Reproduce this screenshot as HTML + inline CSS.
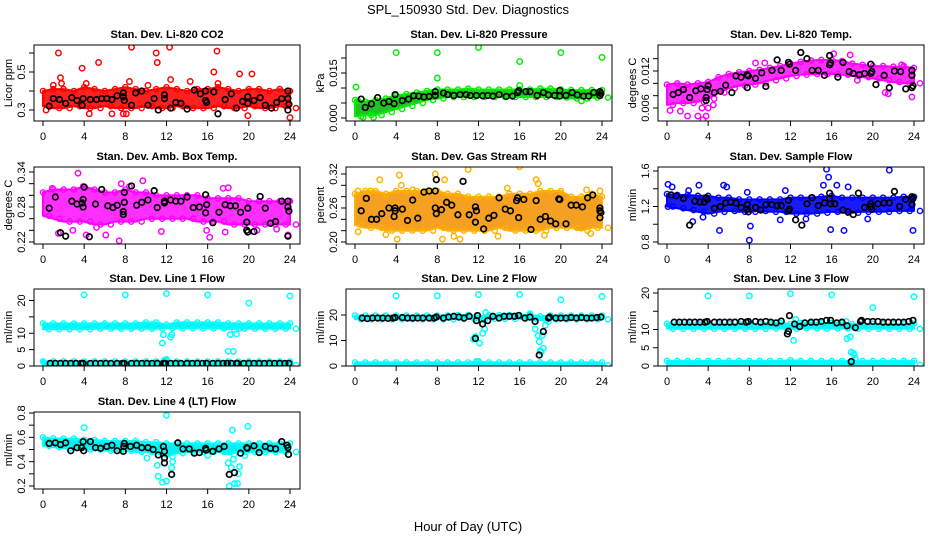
<!DOCTYPE html>
<html><head><meta charset="utf-8"><title>SPL_150930 Std. Dev. Diagnostics</title>
<style>
html,body{margin:0;padding:0;background:#fff;}
svg{display:block;font-family:"Liberation Sans",Arial,sans-serif;}
.pt{font-size:11px;font-weight:bold;text-anchor:middle;}
.yt{font-size:11px;text-anchor:middle;}
</style></head>
<body>
<svg id="chart" width="936" height="540" viewBox="0 0 936 540" xmlns="http://www.w3.org/2000/svg">
<rect x="0" y="0" width="936" height="540" fill="#fff"/>
<text x="468" y="14" font-size="13" text-anchor="middle">SPL_150930  Std. Dev. Diagnostics</text>
<text x="468" y="531" font-size="13" text-anchor="middle">Hour of Day (UTC)</text>
<text class="pt" x="167" y="38">Stan. Dev. Li-820 CO2</text>
<text class="pt" x="479" y="38">Stan. Dev. Li-820 Pressure</text>
<text class="pt" x="791" y="38">Stan. Dev. Li-820 Temp.</text>
<text class="pt" x="167" y="160">Stan. Dev. Amb. Box Temp.</text>
<text class="pt" x="479" y="160">Stan. Dev. Gas Stream RH</text>
<text class="pt" x="791" y="160">Stan. Dev. Sample Flow</text>
<text class="pt" x="167" y="282">Stan. Dev. Line 1 Flow</text>
<text class="pt" x="479" y="282">Stan. Dev. Line 2 Flow</text>
<text class="pt" x="791" y="282">Stan. Dev. Line 3 Flow</text>
<text class="pt" x="167" y="405">Stan. Dev. Line 4 (LT) Flow</text>
<text class="yt" transform="translate(12,83) rotate(-90)">Licor ppm</text>
<text class="yt" transform="translate(324,83) rotate(-90)">kPa</text>
<text class="yt" transform="translate(636,83) rotate(-90)">degrees C</text>
<text class="yt" transform="translate(12,205) rotate(-90)">degrees C</text>
<text class="yt" transform="translate(324,205) rotate(-90)">percent</text>
<text class="yt" transform="translate(636,205) rotate(-90)">ml/min</text>
<text class="yt" transform="translate(12,327) rotate(-90)">ml/min</text>
<text class="yt" transform="translate(324,327) rotate(-90)">ml/min</text>
<text class="yt" transform="translate(636,327) rotate(-90)">ml/min</text>
<text class="yt" transform="translate(12,450) rotate(-90)">ml/min</text>
<g id="plots"></g>
</svg>
<script>
// ---- shared categories ----
const bandHours = [0,1,2,3,4,5,6,7,8,9,10,11,12,13,14,15,16,17,18,19,20,21,22,23,24];
const xTickValues = [0,4,8,12,16,20,24];
const xTickLabels = ["0","4","8","12","16","20","24"];

// ---- P1 CO2 ----
const co2Hi = [0.40,0.41,0.41,0.40,0.42,0.41,0.40,0.41,0.42,0.41,0.40,0.41,0.42,0.41,0.40,0.41,0.41,0.42,0.41,0.40,0.41,0.41,0.40,0.41,0.40];
const co2Lo = [0.32,0.31,0.31,0.32,0.31,0.31,0.32,0.31,0.31,0.31,0.32,0.31,0.31,0.32,0.31,0.31,0.31,0.32,0.31,0.31,0.32,0.31,0.31,0.32,0.31];
const co2OutT = [1.5,1.7,3.8,5.4,8.6,11,11.1,12.3,12.4,16.6,16.9,19.1,20.3,4.5,6.7,7.8,8.1,0.3,19.9,24,1,1.8,4.2,8.4,10.2,14.3,17];
const co2OutV = [0.60,0.47,0.52,0.55,0.63,0.60,0.55,0.63,0.46,0.50,0.61,0.49,0.49,0.28,0.28,0.28,0.28,0.30,0.27,0.26,0.43,0.44,0.44,0.45,0.43,0.45,0.44];
const co2BlkT = [0.6,1,1.6,2.2,2.8,3.3,3.8,3.9,4.6,5.2,5.7,6.2,6.7,7.2,7.8,7.8,7.9,8.6,9.0,9.6,10.2,10.8,11.2,11.8,11.8,12.4,12.9,13.4,14,14.7,15.3,15.8,15.8,15.9,16.6,17,17.7,18.3,18.8,19.4,19.9,19.9,20.5,21.1,21.6,22.2,22.7,23.2,23.8,23.8,23.9,23.8];
const co2BlkV = [0.32,0.36,0.355,0.335,0.365,0.35,0.325,0.36,0.355,0.355,0.36,0.36,0.355,0.375,0.39,0.37,0.35,0.325,0.39,0.40,0.325,0.36,0.30,0.38,0.36,0.31,0.34,0.335,0.305,0.405,0.385,0.40,0.35,0.34,0.395,0.28,0.355,0.385,0.31,0.345,0.335,0.37,0.35,0.365,0.325,0.31,0.34,0.36,0.40,0.36,0.33,0.30];
const co2Ticks = [0.3,0.4,0.5,0.6];
const co2TickLabels = ["0.3","","0.5",""];

// ---- P2 Pressure ----
const presHi = [0.006,0.0055,0.006,0.0065,0.0075,0.008,0.0085,0.009,0.0095,0.0095,0.0095,0.0098,0.0095,0.0095,0.0095,0.0095,0.0095,0.0095,0.0098,0.0098,0.0095,0.0093,0.0093,0.0093,0.0093];
const presLo = [0.0005,0.001,0.001,0.002,0.003,0.004,0.005,0.006,0.0065,0.007,0.007,0.007,0.007,0.007,0.007,0.007,0.007,0.007,0.007,0.007,0.0068,0.0065,0.0065,0.0068,0.0068];
const presOutT = [4,8,12,16,20,24,8,16,0.1,0.8,1.8,22,0.3];
const presOutV = [0.0218,0.0218,0.0235,0.0188,0.0218,0.0202,0.0133,0.0108,0.0103,0.0002,0.0002,0.0057,0.0057];
const presBlkT = [0.6,1.0,1.6,2.2,2.8,3.3,3.8,3.9,4.6,5.2,5.7,6.2,6.7,7.2,7.8,7.8,8.6,9.0,9.6,10.2,10.8,11.2,11.8,12.4,12.9,13.4,14,14.7,15.3,15.8,15.9,16.6,17,17.7,18.3,18.8,19.4,19.9,19.9,20.5,21.1,21.6,22.2,22.7,23.2,23.8,23.8,23.9];
const presBlkV = [0.0063,0.0035,0.0047,0.0068,0.005,0.0055,0.0048,0.0078,0.0058,0.0063,0.0074,0.0073,0.007,0.0072,0.0088,0.0075,0.0083,0.0078,0.0075,0.0078,0.0078,0.0075,0.0075,0.0074,0.0075,0.0073,0.0078,0.0072,0.0073,0.0085,0.0091,0.0088,0.0088,0.0075,0.0085,0.0077,0.0075,0.0092,0.0073,0.0075,0.0085,0.0077,0.0073,0.0073,0.0085,0.0088,0.0075,0.0082];
const presTicks = [0,0.005,0.01,0.015,0.02];
const presTickLabels = ["0.000","","","0.015",""];

// ---- P3 Li-820 Temp ----
const tempHi = [0.0098,0.0100,0.0098,0.0100,0.0102,0.0110,0.0115,0.0118,0.0120,0.0122,0.0125,0.0128,0.0132,0.0135,0.0137,0.0138,0.0138,0.0136,0.0132,0.0130,0.0128,0.0128,0.0127,0.0127,0.0125];
const tempLo = [0.0065,0.0068,0.0068,0.0070,0.0075,0.0085,0.0092,0.0096,0.0098,0.0100,0.0105,0.0108,0.0112,0.0114,0.0115,0.0115,0.0115,0.0114,0.0112,0.0110,0.0108,0.0105,0.0102,0.0100,0.0100];
const tempOutT = [0.3,2,3,3.5,3.8,1.3,3.4,4,4.5,1.4,8.6,9.5,13,17.8,18.5,21.2,21.5,23.8,22.8,23,16.2];
const tempOutV = [0.0056,0.0047,0.0047,0.0041,0.0047,0.0055,0.0060,0.0060,0.0065,0.0090,0.0133,0.0133,0.0150,0.0146,0.0105,0.0085,0.0083,0.0078,0.0130,0.0128,0.0148];
const tempBlkT = [0.6,1.1,1.6,2.2,2.8,3.3,3.8,3.8,3.9,4,4.6,5.2,5.7,6.3,6.7,7.2,7.8,7.9,7.8,8.6,9.2,9.6,10.2,10.7,11.1,11.8,11.9,12.5,13,13.6,14.1,14.7,15.3,15.8,15.8,15.9,16.6,17.1,17.7,18.1,18.7,19.2,19.8,19.8,19.9,20.3,21.1,21.6,22.1,22.7,23.2,23.8,23.8,23.9,23.8];
const tempBlkV = [0.0082,0.0085,0.0090,0.0077,0.0088,0.0091,0.0072,0.0077,0.0090,0.0096,0.0085,0.0087,0.0097,0.0085,0.0112,0.0110,0.0114,0.0112,0.0093,0.0108,0.0117,0.0095,0.0121,0.0138,0.0121,0.0134,0.0131,0.0121,0.0150,0.0140,0.0121,0.0121,0.0113,0.0145,0.0130,0.0133,0.0110,0.0134,0.0119,0.0116,0.0114,0.0116,0.0116,0.0131,0.0119,0.0098,0.0113,0.0093,0.0120,0.0119,0.0091,0.0121,0.0113,0.0096,0.0093];
const tempTicks = [0.006,0.008,0.010,0.012,0.014];
const tempTickLabels = ["0.006","","","0.012",""];

// ---- P4 Amb Box Temp ----
const ambHi = [0.305,0.31,0.31,0.31,0.315,0.31,0.305,0.305,0.31,0.305,0.305,0.30,0.30,0.30,0.30,0.30,0.295,0.295,0.295,0.295,0.29,0.29,0.29,0.29,0.29];
const ambLo = [0.265,0.26,0.255,0.255,0.255,0.25,0.25,0.255,0.255,0.255,0.26,0.26,0.26,0.26,0.26,0.255,0.255,0.255,0.25,0.25,0.25,0.25,0.25,0.25,0.25];
const ambOutT = [3.4,7.4,9.7,1.5,4.2,6.1,11.5,15.9,16.2,17.7,17.5,18,20.8,22.7,23.8,0.9,2.9,5.2,3.9,7.6,8.4];
const ambOutV = [0.338,0.222,0.325,0.235,0.232,0.232,0.238,0.240,0.228,0.237,0.312,0.313,0.240,0.242,0.232,0.312,0.240,0.245,0.315,0.32,0.315];
const ambBlkT = [0.6,1.2,1.7,2.2,2.8,3.3,3.8,3.9,4,3.9,4.5,5.1,5.7,6.3,6.8,7.2,7.8,7.8,7.9,7.9,8.6,9.1,9.6,10.2,10.8,11.1,11.8,11.8,12.4,12.9,13.4,14,14.6,15.2,15.8,15.8,15.9,16.5,17.1,17.7,18.2,18.7,19.2,19.8,19.9,19.8,19.9,20.5,21.1,21.6,22.1,22.6,23.2,23.8,23.9,23.8,23.8];
const ambBlkV = [0.278,0.297,0.236,0.230,0.290,0.285,0.287,0.293,0.314,0.280,0.229,0.285,0.310,0.282,0.279,0.283,0.272,0.267,0.305,0.288,0.316,0.283,0.288,0.292,0.308,0.279,0.290,0.287,0.292,0.290,0.290,0.297,0.279,0.280,0.270,0.301,0.284,0.253,0.271,0.284,0.282,0.282,0.271,0.254,0.237,0.240,0.278,0.238,0.298,0.278,0.252,0.255,0.290,0.290,0.273,0.280,0.230];
const ambTicks = [0.22,0.24,0.26,0.28,0.30,0.32,0.34];
const ambTickLabels = ["0.22","","","0.28","","","0.34"];

// ---- P5 RH ----
const rhHi = [0.285,0.29,0.29,0.285,0.29,0.29,0.29,0.29,0.29,0.285,0.285,0.28,0.28,0.28,0.28,0.285,0.285,0.285,0.29,0.29,0.29,0.28,0.28,0.285,0.28];
const rhLo = [0.23,0.225,0.225,0.22,0.22,0.22,0.22,0.22,0.225,0.22,0.22,0.22,0.22,0.22,0.225,0.22,0.22,0.22,0.22,0.225,0.225,0.225,0.22,0.225,0.225];
const rhOutT = [0.3,1.5,2.4,4.3,4.5,5.6,7.8,8.7,11.0,16.0,17.6,17.8,23.8,22.5,18.4,14.8,3.0,4.1,8.5,9.6,10.2,0.3,13.9,22.9];
const rhOutV = [0.29,0.29,0.31,0.318,0.30,0.292,0.32,0.31,0.328,0.333,0.31,0.303,0.29,0.292,0.212,0.295,0.213,0.205,0.205,0.21,0.205,0.218,0.21,0.215];
const rhBlkT = [0.6,1.1,1.6,2.1,2.6,3.3,3.8,3.9,3.9,4.6,5.1,5.6,6.1,6.7,7.2,7.8,7.9,7.8,7.9,8.4,8.9,9.4,10.0,10.5,11.1,11.7,11.8,11.7,12.5,13,13.5,14,14.6,15.1,15.7,15.8,15.9,16.4,17.1,17.6,18.0,18.5,19.0,19.5,19.9,19.8,20.5,21.0,21.5,22.1,22.6,23.1,23.8,23.8,23.9,23.8];
const rhBlkV = [0.255,0.277,0.24,0.24,0.25,0.26,0.245,0.26,0.255,0.258,0.238,0.274,0.242,0.288,0.29,0.29,0.31,0.26,0.25,0.257,0.27,0.265,0.248,0.307,0.248,0.262,0.255,0.235,0.223,0.242,0.247,0.278,0.258,0.255,0.273,0.278,0.243,0.275,0.222,0.273,0.24,0.245,0.237,0.232,0.275,0.276,0.232,0.265,0.265,0.262,0.278,0.283,0.26,0.255,0.252,0.243];
const rhTicks = [0.20,0.22,0.24,0.26,0.28,0.30,0.32];
const rhTickLabels = ["0.20","","","0.26","","","0.32"];

// ---- P6 Sample Flow ----
const sfHi = [1.34,1.33,1.33,1.32,1.32,1.30,1.30,1.28,1.28,1.28,1.28,1.28,1.30,1.30,1.30,1.31,1.32,1.30,1.30,1.30,1.30,1.30,1.30,1.31,1.31];
const sfLo = [1.20,1.18,1.16,1.14,1.12,1.14,1.15,1.14,1.14,1.15,1.14,1.14,1.12,1.12,1.12,1.13,1.14,1.13,1.13,1.14,1.14,1.14,1.15,1.15,1.15];
const sfOutT = [0.1,0.5,2.1,3.1,3.5,2.5,5.1,8,8.1,5.5,5.8,7.8,11.5,15.5,15.7,15.9,17.2,21.6,23.9,15.2,16.5,17.6,19.5,13.5,11.0,0.1];
const sfOutV = [1.45,1.42,1.38,1.44,1.08,1.03,0.93,0.82,0.98,1.44,1.42,1.36,1.38,1.62,1.53,0.94,0.93,1.61,0.93,1.44,1.44,1.42,1.06,1.06,1.05,1.20];
const sfBlkT = [0.4,0.9,1.6,2.2,2.7,3.2,3.6,3.8,3.9,4.6,5.2,5.7,6.2,6.7,7.2,7.8,7.8,7.9,8.6,9.1,9.6,10.2,10.7,11.1,11.8,11.8,11.9,12.5,13.1,13.6,14.1,14.7,15.3,15.8,15.8,15.9,16.3,17.1,17.6,18.1,18.6,19.2,19.8,19.8,19.9,20.5,21.1,21.6,22.1,22.6,23.2,23.8,23.8,23.9];
const sfBlkV = [1.33,1.32,1.29,0.99,1.26,1.25,1.25,1.30,1.28,1.18,1.20,1.24,1.25,1.24,1.19,1.22,1.17,1.14,1.19,1.16,1.22,1.22,1.21,1.21,1.27,1.15,1.17,1.05,0.99,1.23,1.30,1.21,1.24,1.35,1.29,1.23,1.23,1.16,1.14,1.11,1.35,1.19,1.23,1.20,1.17,1.23,1.24,1.24,1.37,1.20,1.28,1.31,1.22,1.29];
const sfTicks = [0.8,1.0,1.2,1.4,1.6];
const sfTickLabels = ["0.8","","1.2","","1.6"];

// ---- Line flows (shared) ----
const lineBaseHi = [1.4,1.4,1.4,1.4,1.4,1.4,1.4,1.4,1.4,1.4,1.4,1.4,1.6,1.4,1.4,1.4,1.4,1.4,1.4,1.4,1.4,1.4,1.4,1.4,1.4];
const lineBaseLo = [0.3,0.3,0.3,0.3,0.3,0.3,0.3,0.3,0.3,0.3,0.3,0.3,0.3,0.3,0.3,0.3,0.3,0.3,0.3,0.3,0.3,0.3,0.3,0.3,0.3];
const lineBlkT = [0.7,1.2,1.7,2.2,2.7,3.2,3.7,3.9,4.6,5.1,5.6,6.1,6.6,7.2,7.7,7.9,8.6,9.1,9.6,10.1,10.6,11.1,11.7,11.8,11.9,12.4,12.9,13.4,14,14.5,15,15.5,15.9,16.5,17,17.5,17.9,18.3,18.8,18.9,19.5,20,20.5,21,21.5,22,22.5,23,23.5,23.9];

// ---- P7 Line 1 ----
const l1Hi = [13.0,13.0,13.0,13.0,13.0,13.0,13.0,13.0,13.0,13.0,13.3,13.3,12.6,13.3,13.3,13.3,13.3,13.3,13.0,13.0,13.0,13.0,13.0,13.0,13.0];
const l1Lo = [11.2,11.2,11.2,11.2,11.2,11.4,11.4,11.4,11.4,11.4,11.4,11.4,11.6,11.5,11.5,11.5,11.5,11.5,11.2,11.4,11.4,11.4,11.4,11.4,11.4];
const l1OutT = [4,8,12,16,20,24,11.6,11.7,12.4,12.5,18,18.5,18.2,18.8,19.1,12,11.8,0.1];
const l1OutV = [21.7,21.7,22.1,21.7,19.2,21.4,7.0,9.6,8.8,9.6,4.5,4.5,9.6,9.8,11.5,2.0,1.8,1.0];
const l1BlkV = [0.8,0.8,0.8,0.8,0.8,0.8,0.8,0.8,0.8,0.8,0.8,0.8,0.8,0.8,0.8,0.8,0.8,0.8,0.8,0.8,0.8,0.8,0.8,0.8,0.8,0.8,0.8,0.8,0.8,0.8,0.8,0.8,0.8,0.8,0.8,0.8,0.8,0.8,0.8,0.8,0.8,0.8,0.8,0.8,0.8,0.8,0.8,0.8,0.8,0.8];
const l1Ticks = [0,5,10,15,20];
const l1TickLabels = ["0","5","10","","20"];

// ---- P8 Line 2 ----
const l2Hi = [19.8,19.8,19.8,19.8,19.8,19.8,19.8,19.8,19.8,19.8,20.0,20.0,19.5,20.0,20.0,20.0,20.0,20.0,19.5,19.8,19.8,19.8,19.8,19.8,19.8];
const l2Lo = [18.3,18.3,18.3,18.3,18.3,18.3,18.3,18.3,18.3,18.3,18.5,18.5,18.0,18.5,18.5,18.5,18.5,18.5,18.0,18.3,18.3,18.3,18.3,18.3,18.3];
const l2OutT = [4,8,12,16,20,24,11.5,11.7,12.1,12.4,12.6,12.4,12.7,17.5,17.8,17.9,18.0,18.1,18.3,18.2,18.5,18.8,17.0,12,11.8];
const l2OutV = [27.5,27.5,28,28,26,27.3,10.5,11.5,9,12.8,14.5,16.5,21,14.5,12,9.5,6,5.5,7,12,16,17.5,20.5,1.8,1.8];
const l2BlkV = [18.8,18.6,18.8,18.8,18.8,18.7,18.8,19.0,19.0,18.8,18.8,18.8,18.8,18.8,18.8,19.2,18.8,19.2,19.5,19.2,18.8,19.5,10.8,17.8,19.8,16.5,17.8,19.5,18.8,19.5,19.5,19.5,19.8,18.8,19.2,17.5,4.3,13.5,18.8,19.2,18.8,18.8,18.8,19.0,18.8,19.0,18.8,18.8,19.0,19.2];
const l2Ticks = [0,10,20];
const l2TickLabels = ["0","10","20"];

// ---- P9 Line 3 ----
const l3Hi = [11.6,11.6,11.6,11.6,11.6,11.6,11.6,11.6,11.6,11.6,11.8,11.8,11.5,11.8,11.8,11.8,11.8,11.8,11.5,11.6,11.6,11.6,11.6,11.6,11.6];
const l3Lo = [10.2,10.2,10.2,10.2,10.2,10.2,10.2,10.2,10.2,10.2,10.3,10.3,10.2,10.3,10.3,10.3,10.3,10.3,10.2,10.2,10.2,10.2,10.2,10.2,10.2];
const l3OutT = [4,8,12,16,20,24,12.3,12.5,17.5,17.8,17.9,18.1,18.2,18.3,17.4];
const l3OutV = [19.2,19.2,19.8,19.5,16,19,7,12.8,7.5,8,3.8,3.5,3,2,12.2];
const l3BlkV = [12,12,12,12,12,12,12,12.2,12,12,12,12,12,12.2,12,12.2,12.2,12,12.2,12,11.8,12.3,8.8,9.5,13.8,11.5,10.8,11.8,12,12,12.2,12.5,12.5,11.8,12,11,1.2,10.5,12.2,12.5,12.2,12.2,12.2,12,12,12,12,12,12.2,12.5];
const l3Ticks = [0,5,10,15,20];
const l3TickLabels = ["0","5","10","","20"];

// ---- P10 Line 4 (LT) ----
const l4Hi = [0.60,0.59,0.59,0.59,0.58,0.58,0.57,0.57,0.57,0.57,0.56,0.56,0.55,0.55,0.55,0.55,0.55,0.55,0.55,0.55,0.55,0.55,0.55,0.55,0.55];
const l4Lo = [0.53,0.52,0.51,0.51,0.50,0.50,0.49,0.49,0.49,0.48,0.48,0.47,0.44,0.47,0.48,0.48,0.48,0.48,0.46,0.48,0.48,0.48,0.48,0.48,0.48];
const l4OutT = [4,12,18.4,19.9,11.2,11.6,12.0,12.5,12.6,11.1,10.1,18,18.1,18.3,18.5,18.6,18.9,19.1,19.0,16,19.6];
const l4OutV = [0.68,0.78,0.66,0.69,0.28,0.23,0.24,0.35,0.40,0.37,0.43,0.39,0.20,0.35,0.42,0.22,0.22,0.36,0.30,0.45,0.45];
const l4BlkT = [0.6,1.2,1.7,2.2,2.7,3.3,3.75,3.9,3.95,4.6,5.1,5.6,6.2,6.7,7.2,7.8,7.9,7.85,8.5,9.1,9.6,10.2,10.7,11.2,11.7,11.8,11.8,11.8,12.5,13.1,13.6,14.2,14.7,15.2,15.8,15.85,16.5,17.1,17.6,18.1,18.6,19.2,19.8,19.85,20.5,21.0,21.6,22.1,22.6,23.2,23.7,23.8,23.85];
const l4BlkV = [0.55,0.555,0.54,0.555,0.49,0.515,0.515,0.565,0.49,0.565,0.515,0.51,0.525,0.535,0.49,0.485,0.55,0.525,0.525,0.535,0.515,0.515,0.5,0.455,0.525,0.485,0.43,0.39,0.295,0.555,0.505,0.505,0.47,0.475,0.51,0.495,0.485,0.505,0.525,0.295,0.31,0.47,0.515,0.51,0.53,0.475,0.525,0.51,0.505,0.565,0.535,0.515,0.46];
const l4Ticks = [0.2,0.3,0.4,0.5,0.6,0.7,0.8];
const l4TickLabels = ["0.2","","0.4","","0.6","","0.8"];

// ---- layout (not data) ----
const NS = "http://www.w3.org/2000/svg";
const root = document.getElementById('plots');
const colBox = [[34,300],[346,612],[658,924]];
const colX = [[43,290],[355,602],[667,914]];
const rowBox = [[45,121],[167,244],[289,366],[412,489]];

function mk(tag, attrs, parent) {
  const el = document.createElementNS(NS, tag);
  for (const k in attrs) el.setAttribute(k, attrs[k]);
  (parent || root).appendChild(el);
  return el;
}

function drawPanel(name, col, row, cal, ticks, tickLabels, color, bandFill, hi, lo, outT, outV, blkT, blkV, base) {
  const [bl, br] = colBox[col];
  const [bt, bb] = rowBox[row];
  const [x0, x24] = colX[col];
  const xs = h => x0 + (h / 24) * (x24 - x0);
  const ys = v => cal[1] + (v - cal[0]) * (cal[3] - cal[1]) / (cal[2] - cal[0]);
  const g = mk('g', {});
  
  
  const clipId = 'clip-' + name;
  const cp = mk('clipPath', {id: clipId}, g);
  mk('rect', {x: bl, y: bt, width: br - bl, height: bb - bt}, cp);
  const data = mk('g', {'clip-path': 'url(#' + clipId + ')'}, g);
  
  

  function band(h, l, nm) {
    let pts = [];
    for (let i = 0; i < h.length; i++) pts.push(xs(bandHours[i]).toFixed(1) + ',' + ys(h[i]).toFixed(1));
    for (let i = l.length - 1; i >= 0; i--) pts.push(xs(bandHours[i]).toFixed(1) + ',' + ys(l[i]).toFixed(1));
    const p = mk('polygon', {points: pts.join(' '), fill: bandFill, stroke: color, 'stroke-width': 2, 'stroke-linejoin': 'round'}, data);
    
    
    for (let i = 0; i < h.length; i++) {
      const c1 = mk('circle', {cx: xs(bandHours[i]), cy: ys(h[i]), r: 2.6, fill: 'none', stroke: color, 'stroke-width': 1.4}, data);
      
      
      const c2 = mk('circle', {cx: xs(bandHours[i]) + 6, cy: ys(l[i]), r: 2.6, fill: 'none', stroke: color, 'stroke-width': 1.4}, data);
      
      
    }
  }
  if (base) band(base[0], base[1], name + '-base-band');
  band(hi, lo, name + '-band');
  for (let i = 0; i < outT.length; i++) {
    const c = mk('circle', {cx: xs(outT[i]), cy: ys(outV[i]), r: 2.7, fill: 'none', stroke: color, 'stroke-width': 1.5}, data);
    
    
  }
  for (let i = 0; i < Math.min(blkT.length, blkV.length); i++) {
    const c = mk('circle', {cx: xs(blkT[i]), cy: ys(blkV[i]), r: 2.8, fill: 'none', stroke: '#000', 'stroke-width': 1.7}, data);
    
    
  }
  const box = mk('rect', {x: bl, y: bt, width: br - bl, height: bb - bt, fill: 'none', stroke: '#000', 'stroke-width': 1}, g);
  
  
  const xa = mk('line', {x1: xs(xTickValues[0]), x2: xs(xTickValues[xTickValues.length - 1]), y1: bb, y2: bb, stroke: '#000'}, g);
  
  
  for (let i = 0; i < xTickValues.length; i++) {
    const x = xs(xTickValues[i]);
    const tk = mk('line', {x1: x, x2: x, y1: bb, y2: bb + 5, stroke: '#000'}, g);
    
    
    const tl = mk('text', {x: x, y: bb + 19, 'font-size': 11, 'text-anchor': 'middle'}, g);
    tl.textContent = xTickLabels[i];
    
    
  }
  const ya = mk('line', {x1: bl, x2: bl, y1: ys(ticks[0]), y2: ys(ticks[ticks.length - 1]), stroke: '#000'}, g);
  
  
  for (let i = 0; i < ticks.length; i++) {
    const y = ys(ticks[i]);
    const tk = mk('line', {x1: bl - 5, x2: bl, y1: y, y2: y, stroke: '#000'}, g);
    
    
    if (tickLabels[i]) {
      const tl = mk('text', {transform: 'translate(' + (bl - 9) + ',' + y + ') rotate(-90)', 'font-size': 11, 'text-anchor': 'middle'}, g);
      tl.textContent = tickLabels[i];
      
      
    }
  }
}

drawPanel('co2', 0, 0, [0.3,110,0.5,72], co2Ticks, co2TickLabels, '#ff0000', '#ff2020', co2Hi, co2Lo, co2OutT, co2OutV, co2BlkT, co2BlkV, null);
drawPanel('pressure', 1, 0, [0,118,0.015,73], presTicks, presTickLabels, '#00ee00', '#22c022', presHi, presLo, presOutT, presOutV, presBlkT, presBlkV, null);
drawPanel('li820-temp', 2, 0, [0.006,108,0.012,71], tempTicks, tempTickLabels, '#ff00ff', '#ff30ff', tempHi, tempLo, tempOutT, tempOutV, tempBlkT, tempBlkV, null);
drawPanel('amb-box-temp', 0, 1, [0.22,242,0.34,172], ambTicks, ambTickLabels, '#ff00ff', '#ff30ff', ambHi, ambLo, ambOutT, ambOutV, ambBlkT, ambBlkV, null);
drawPanel('gas-rh', 1, 1, [0.20,242,0.32,174], rhTicks, rhTickLabels, '#ffb000', '#f5a020', rhHi, rhLo, rhOutT, rhOutV, rhBlkT, rhBlkV, null);
drawPanel('sample-flow', 2, 1, [0.8,242,1.6,171], sfTicks, sfTickLabels, '#0000ff', '#1a1aff', sfHi, sfLo, sfOutT, sfOutV, sfBlkT, sfBlkV, null);
drawPanel('line1-flow', 0, 2, [0,366,20,300.5], l1Ticks, l1TickLabels, '#00ffff', '#00f0f0', l1Hi, l1Lo, l1OutT, l1OutV, lineBlkT, l1BlkV, [lineBaseHi, lineBaseLo]);
drawPanel('line2-flow', 1, 2, [0,366,20,315], l2Ticks, l2TickLabels, '#00ffff', '#00f0f0', l2Hi, l2Lo, l2OutT, l2OutV, lineBlkT, l2BlkV, [lineBaseHi, lineBaseLo]);
drawPanel('line3-flow', 2, 2, [0,366,20,293], l3Ticks, l3TickLabels, '#00ffff', '#00f0f0', l3Hi, l3Lo, l3OutT, l3OutV, lineBlkT, l3BlkV, [lineBaseHi, lineBaseLo]);
drawPanel('line4-flow', 0, 3, [0.2,486,0.8,413], l4Ticks, l4TickLabels, '#00ffff', '#00f0f0', l4Hi, l4Lo, l4OutT, l4OutV, l4BlkT, l4BlkV, null);
</script>
</body></html>
